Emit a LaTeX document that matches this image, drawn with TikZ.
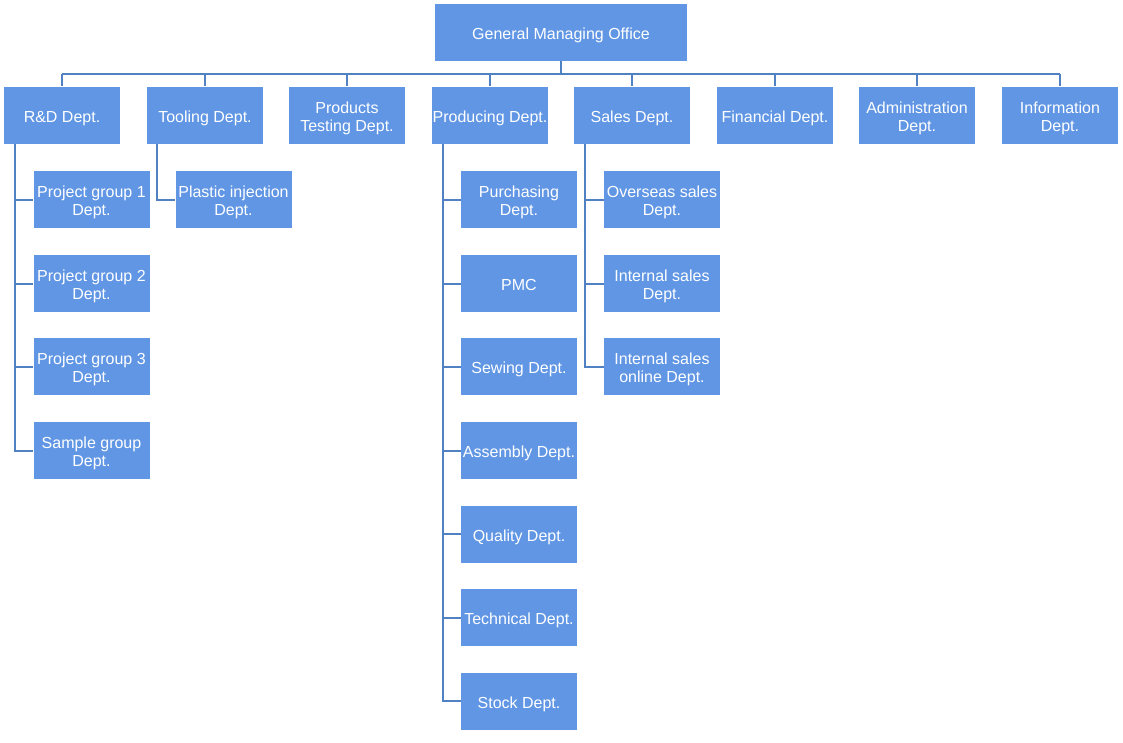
\documentclass[tikz,border=0pt]{standalone}
\usepackage{fontspec}
\setmainfont{Liberation Sans}
\usetikzlibrary{calc}
\definecolor{boxfill}{RGB}{96,150,228}
\definecolor{linecol}{RGB}{79,129,195}
\newcommand\twoline[2]{\raisebox{0pt}[26.6pt][2.5pt]{\begin{tabular}[b]{@{}c@{}}#1\\#2\end{tabular}}}
\tikzset{
  box/.style={fill=boxfill, draw=none, text=white, inner sep=0pt, align=center,
    minimum width=87pt, minimum height=42.75pt, font=\fontsize{12}{13.3}\selectfont,
    execute at begin node={\rule{0pt}{13.3pt}},
    execute at end node={\rule[-2.5pt]{0pt}{0pt}}},
  conn/.style={draw=linecol, line width=1.5pt}
}
\begin{document}
\begin{tikzpicture}[x=0.75pt,y=-0.75pt]
\useasboundingbox (0,0) rectangle (1123,742);
% top
\node[box, minimum width=189pt] (top) at (561,32.5) {General Managing Office};
% level 1
\node[box] (rd)   at (62,115)   {R\&D Dept.};
\node[box] (tool) at (205,115)  {Tooling Dept.};
\node[box] (test) at (347,115)  {\twoline{Products}{Testing Dept.}};
\node[box] (prod) at (490,115)  {Producing Dept.};
\node[box] (sale) at (632,115)  {Sales Dept.};
\node[box] (fin)  at (775,115)  {Financial Dept.};
\node[box] (adm)  at (917,115)  {\twoline{Administration}{Dept.}};
\node[box] (info) at (1060,115) {\twoline{Information}{Dept.}};
% R&D children
\node[box] (rd1) at (91.5,199.5) {\twoline{Project group 1}{Dept.}};
\node[box] (rd2) at (91.5,283.5) {\twoline{Project group 2}{Dept.}};
\node[box] (rd3) at (91.5,366.5) {\twoline{Project group 3}{Dept.}};
\node[box] (rd4) at (91.5,450.5) {\twoline{Sample group}{Dept.}};
% Tooling child
\node[box] (tl1) at (233.5,199.5) {\twoline{Plastic injection}{Dept.}};
% Producing children
\node[box] (pr1) at (519,199.5) {\twoline{Purchasing}{Dept.}};
\node[box] (pr2) at (519,283.5) {PMC};
\node[box] (pr3) at (519,366.5) {Sewing Dept.};
\node[box] (pr4) at (519,450.5) {Assembly Dept.};
\node[box] (pr5) at (519,534) {Quality Dept.};
\node[box] (pr6) at (519,617.5) {Technical Dept.};
\node[box] (pr7) at (519,701) {Stock Dept.};
% Sales children
\node[box] (sa1) at (662,199.5) {\twoline{Overseas sales}{Dept.}};
\node[box] (sa2) at (662,283.5) {\twoline{Internal sales}{Dept.}};
\node[box] (sa3) at (662,366.5) {\twoline{Internal sales}{online Dept.}};
% bus
\coordinate (bus) at (561,74);
\draw[conn] (top.south) -- (bus);
\draw[conn] (bus -| rd.north) -- (bus -| info.north);
\foreach \n in {rd,tool,test,prod,sale,fin,adm,info}
  \draw[conn] (bus -| \n.north) -- (\n.north);
% child connectors
\foreach \c in {rd1,rd2,rd3,rd4}
  \draw[conn] ($(rd.south west)+(11,0)$) |- (\c.west);
\draw[conn] ($(tool.south west)+(10,0)$) |- (tl1.west);
\foreach \c in {pr1,pr2,pr3,pr4,pr5,pr6,pr7}
  \draw[conn] ($(prod.south west)+(11,0)$) |- (\c.west);
\foreach \c in {sa1,sa2,sa3}
  \draw[conn] ($(sale.south west)+(11,0)$) |- (\c.west);
\end{tikzpicture}
\end{document}
